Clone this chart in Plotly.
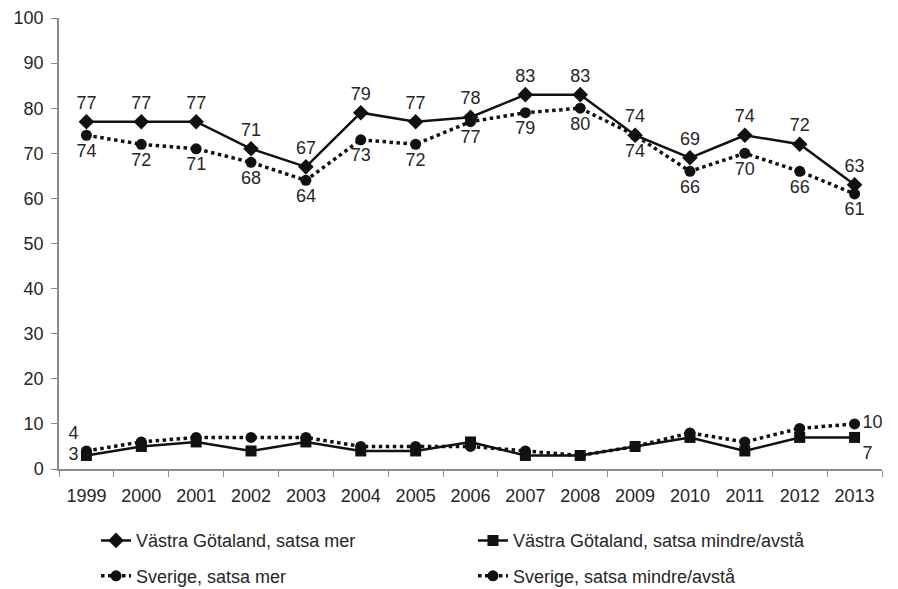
import plotly.graph_objects as go

years = [str(y) for y in range(1999, 2014)]
vg_mer = [77, 77, 77, 71, 67, 79, 77, 78, 83, 83, 74, 69, 74, 72, 63]
se_mer = [74, 72, 71, 68, 64, 73, 72, 77, 79, 80, 74, 66, 70, 66, 61]
vg_mindre = [3, 5, 6, 4, 6, 4, 4, 6, 3, 3, 5, 7, 4, 7, 7]
se_mindre = [4, 6, 7, 7, 7, 5, 5, 5, 4, 3, 5, 8, 6, 9, 10]

names = ["Västra Götaland, satsa mer", "Västra Götaland, satsa mindre/avstå",
         "Sverige, satsa mer", "Sverige, satsa mindre/avstå"]

FONT = "Liberation Sans, Arial, sans-serif"
TXT = dict(family=FONT, size=18, color="#262626")
BLACK = "#111111"

def ends_text(vals):
    t = [""] * len(vals)
    t[0] = str(vals[0])
    t[-1] = str(vals[-1])
    return t

fig = go.Figure()

fig.add_trace(go.Scatter(
    x=years, y=vg_mer, name=names[0], mode="lines+markers+text",
    line=dict(color=BLACK, width=2.5),
    marker=dict(symbol="diamond", size=12, color=BLACK),
    text=[str(v) for v in vg_mer], textposition="top center",
    textfont=TXT, legend="legend", legendgroup="a", hoverinfo="skip"))

fig.add_trace(go.Scatter(
    x=years, y=se_mer, name=names[2], mode="lines+markers+text",
    line=dict(color=BLACK, width=3.5, dash="dot"),
    marker=dict(symbol="circle", size=11, color=BLACK),
    text=[str(v) for v in se_mer], textposition="bottom center",
    textfont=TXT, legend="legend", legendgroup="b", hoverinfo="skip"))

vg_pos = ["middle left"] + ["middle right"] * 13 + ["bottom right"]
fig.add_trace(go.Scatter(
    x=years, y=vg_mindre, name=names[1], mode="lines+markers+text",
    line=dict(color=BLACK, width=2.5),
    marker=dict(symbol="square", size=11, color=BLACK),
    text=ends_text(vg_mindre), textposition=vg_pos,
    textfont=TXT, legend="legend2", legendgroup="c", hoverinfo="skip"))

se_pos = ["top left"] + ["middle right"] * 14
fig.add_trace(go.Scatter(
    x=years, y=se_mindre, name=names[3], mode="lines+markers+text",
    line=dict(color=BLACK, width=3.5, dash="dot"),
    marker=dict(symbol="circle", size=11, color=BLACK),
    text=ends_text(se_mindre), textposition=se_pos,
    textfont=TXT, legend="legend2", legendgroup="d", hoverinfo="skip"))

legend_common = dict(
    orientation="v", yanchor="top", y=-0.118, xanchor="left",
    font=TXT, bgcolor="rgba(0,0,0,0)", tracegroupgap=9,
    traceorder="grouped",
)

fig.update_layout(
    width=898, height=589,
    margin=dict(l=51, r=24, t=10, b=128, autoexpand=False),
    paper_bgcolor="white", plot_bgcolor="white",
    font=TXT,
    showlegend=True,
    legend=dict(x=0.045, **legend_common),
    legend2=dict(x=0.503, **legend_common),
    xaxis=dict(
        type="category", showgrid=False, zeroline=False,
        showline=True, linecolor="#8c8c8c", linewidth=1.5,
        ticks="outside", tickson="boundaries", ticklen=6, tickcolor="#8c8c8c",
        tickfont=TXT, range=[-0.5, 14.5], fixedrange=True,
        ticklabelstandoff=10,
    ),
    yaxis=dict(
        range=[0, 100], dtick=10, showgrid=False, zeroline=False,
        showline=True, linecolor="#8c8c8c", linewidth=1.5,
        ticks="outside", ticklen=6, tickcolor="#8c8c8c",
        tickfont=TXT, fixedrange=True, ticklabelstandoff=4,
        ticklabeloverflow="allow",
    ),
)

fig.write_html("out.html")
